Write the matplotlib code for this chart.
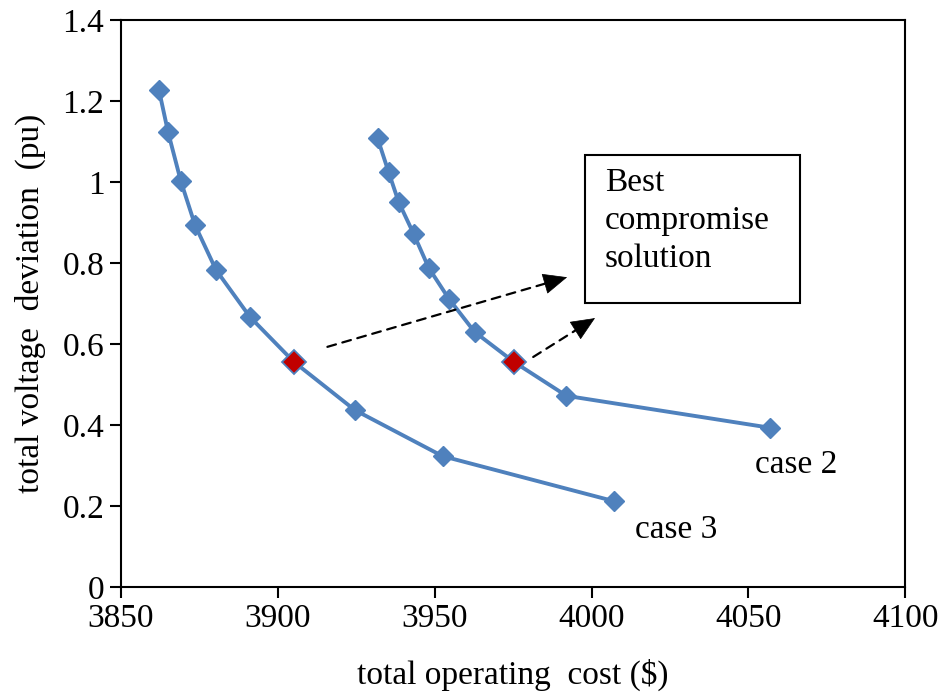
import numpy as np
import matplotlib.pyplot as plt
from matplotlib.patches import Rectangle

plt.rcParams['font.family'] = ['Liberation Serif', 'DejaVu Serif']

# pareto fronts: total operating cost ($) vs total voltage deviation (pu)
cost_case3 = [3862.1, 3865.0, 3869.1, 3873.6, 3880.3, 3891.1, 3905.1, 3924.5, 3952.5, 4007.0]
tvd_case3 = [1.228, 1.124, 1.002, 0.894, 0.783, 0.667, 0.556, 0.437, 0.323, 0.212]

cost_case2 = [3931.8, 3935.3, 3938.5, 3943.3, 3948.1, 3954.5, 3962.7, 3975.2, 3992.0, 4057.0]
tvd_case2 = [1.108, 1.025, 0.951, 0.872, 0.788, 0.712, 0.630, 0.556, 0.472, 0.393]

# best compromise solutions
best_cost = [3905.1, 3975.2]
best_tvd = [0.556, 0.556]

blue = '#4F81BD'
red = '#C00000'
fs = 24

fig, ax = plt.subplots(figsize=(9.45, 6.97), dpi=100)
fig.subplots_adjust(left=0.128, right=0.958, top=0.971, bottom=0.158)

ax.plot(cost_case3, tvd_case3, '-D', color=blue, lw=2.8, ms=10.5, zorder=3)
ax.plot(cost_case2, tvd_case2, '-D', color=blue, lw=2.8, ms=10.5, zorder=3)
ax.plot(best_cost, best_tvd, 'D', color=red, mec=blue, mew=1.3, ms=12.5, ls='none', zorder=4)

ax.set_xlim(3850, 4100)
ax.set_ylim(0, 1.4)
ax.set_xticks(np.arange(3850, 4101, 50))
ax.set_yticks(np.arange(0, 1.41, 0.2))
ax.set_yticklabels(['0', '0.2', '0.4', '0.6', '0.8', '1', '1.2', '1.4'])
ax.tick_params(direction='out', length=8, width=1.5, labelsize=fs, pad=4)
for s in ax.spines.values():
    s.set_linewidth(1.5)

ax.set_xlabel('total operating  cost ($)', fontsize=fs, labelpad=18)
ax.set_ylabel('total voltage  deviation  (pu)', fontsize=fs, labelpad=12)

# annotation box
ax.add_patch(Rectangle((3997.9, 0.701), 68.5, 0.366, fill=False, lw=1.5,
                       ec='black', zorder=5))
ax.text(4004.3, 1.035, 'Best\ncompromise\nsolution', fontsize=fs,
        va='top', ha='left', linespacing=1.32, zorder=6)

# dashed pointers with solid heads
pointers = [((3915.8, 0.593), (3992.2, 0.765)),
            ((3981.4, 0.568), (4001.1, 0.664))]
for start, tip in pointers:
    ax.annotate('', xy=tip, xytext=start,
                arrowprops=dict(arrowstyle='-', ls=(0, (4, 3)), lw=1.6,
                                color='black', shrinkA=0, shrinkB=4))
    near = (tip[0] - 0.05 * (tip[0] - start[0]), tip[1] - 0.05 * (tip[1] - start[1]))
    ax.annotate('', xy=tip, xytext=near,
                arrowprops=dict(arrowstyle='-|>,head_length=0.8,head_width=0.35',
                                mutation_scale=20, lw=0.5, color='black',
                                shrinkA=0, shrinkB=0))

ax.text(4013.8, 0.141, 'case 3', fontsize=fs, ha='left', va='center')
ax.text(4052.0, 0.301, 'case 2', fontsize=fs, ha='left', va='center')

plt.savefig('out.png', dpi=100)
